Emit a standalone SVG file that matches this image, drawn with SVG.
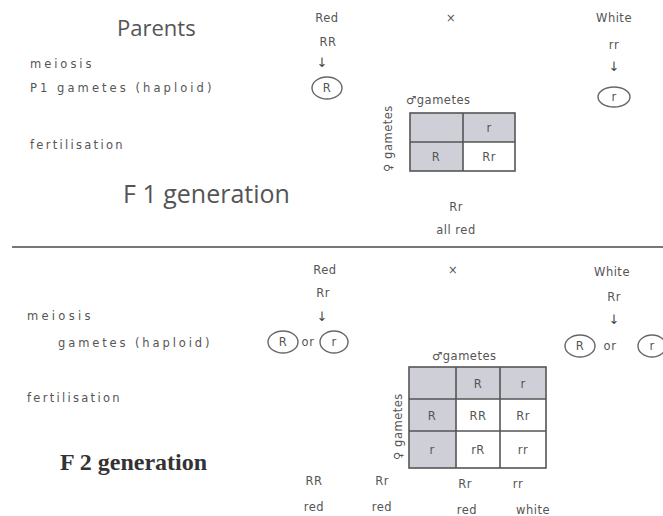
<svg xmlns="http://www.w3.org/2000/svg" width="663" height="516" viewBox="0 0 663 516">
<style>
.t{font-family:"DejaVu Sans",sans-serif;font-size:11.5px;fill:#555;letter-spacing:0.5px}
.c{text-anchor:middle}
.big{font-family:"Open Sans","Liberation Sans",sans-serif;font-size:22px;fill:#555}
.big2{font-family:"Open Sans","Liberation Sans",sans-serif;font-size:25px;fill:#555}
.ser{font-family:"Liberation Serif",serif;font-size:24px;font-weight:bold;fill:#333}
.g{fill:none;stroke:#666;stroke-width:1.4}
.sh{fill:#cfcfd8}
.wh{fill:#fff}
.grid{fill:none;stroke:#555;stroke-width:1.6}
.arr{font-family:"DejaVu Sans",sans-serif;font-size:13px;fill:#444;text-anchor:middle}
</style>
<rect width="663" height="516" fill="#fff"/>

<g id="labels-left">
<text class="big" x="117" y="36">Parents</text>
<text class="t" x="30" y="68" textLength="62">meiosis</text>
<text class="t" x="30" y="92" textLength="182">P1 gametes (haploid)</text>
<text class="t" x="30" y="149" textLength="93">fertilisation</text>
<text class="big2" x="123" y="203">F 1 generation</text>
<text class="t" x="27" y="320" textLength="64">meiosis</text>
<text class="t" x="58" y="347" textLength="152">gametes (haploid)</text>
<text class="t" x="27" y="402" textLength="93">fertilisation</text>
<text class="ser" x="60" y="470">F 2 generation</text>
</g>

<g id="parent1-top">
<text class="t c" x="327" y="22">Red</text>
<text class="t c" x="328" y="46">RR</text>
<text class="arr" x="322" y="67">↓</text>
<ellipse class="g" cx="327" cy="88" rx="15" ry="11"/>
<text class="t c" x="327" y="92">R</text>
</g>

<g id="cross-top"><text class="t c" x="451" y="22">×</text></g>

<g id="parent2-top">
<text class="t c" x="614" y="22">White</text>
<text class="t c" x="614" y="49">rr</text>
<text class="arr" x="614" y="71">↓</text>
<ellipse class="g" cx="614" cy="97" rx="16" ry="10"/>
<text class="t c" x="614" y="101">r</text>
</g>

<g id="punnett-f1">
<text class="t" x="406" y="104">♂gametes</text>
<text class="t" transform="translate(392,172) rotate(-90)">♀ gametes</text>
<rect class="sh" x="410" y="113" width="53" height="29"/>
<rect class="sh" x="463" y="113" width="52" height="29"/>
<rect class="sh" x="410" y="142" width="53" height="29"/>
<rect class="wh" x="463" y="142" width="52" height="29"/>
<rect class="grid" x="410" y="113" width="105" height="58"/>
<line class="grid" x1="463" y1="113" x2="463" y2="171"/>
<line class="grid" x1="410" y1="142" x2="515" y2="142"/>
<text class="t c" x="489" y="132">r</text>
<text class="t c" x="436" y="161">R</text>
<text class="t c" x="489" y="161">Rr</text>
</g>

<g id="result-f1">
<text class="t c" x="456" y="211">Rr</text>
<text class="t c" x="456" y="234">all red</text>
</g>

<g id="divider"><line x1="12" y1="247" x2="663" y2="247" stroke="#777" stroke-width="2"/></g>

<g id="parent1-bottom">
<text class="t c" x="325" y="274">Red</text>
<text class="t c" x="323" y="297">Rr</text>
<text class="arr" x="322" y="321">↓</text>
<ellipse class="g" cx="283" cy="342" rx="15" ry="11"/>
<text class="t c" x="283" y="346">R</text>
<text class="t c" x="308" y="346">or</text>
<ellipse class="g" cx="334" cy="342" rx="14" ry="11"/>
<text class="t c" x="334" y="346">r</text>
</g>

<g id="cross-bottom"><text class="t c" x="453" y="274">×</text></g>

<g id="parent2-bottom">
<text class="t c" x="612" y="276">White</text>
<text class="t c" x="614" y="301">Rr</text>
<text class="arr" x="614" y="324">↓</text>
<ellipse class="g" cx="580" cy="346" rx="15" ry="11"/>
<text class="t c" x="580" y="350">R</text>
<text class="t c" x="610" y="350">or</text>
<ellipse class="g" cx="652" cy="346" rx="14" ry="11"/>
<text class="t c" x="652" y="350">r</text>
</g>

<g id="punnett-f2">
<text class="t" x="432" y="360">♂gametes</text>
<text class="t" transform="translate(402,460) rotate(-90)">♀ gametes</text>
<rect class="sh" x="409" y="367" width="47" height="32"/>
<rect class="sh" x="456" y="367" width="44" height="32"/>
<rect class="sh" x="500" y="367" width="46" height="32"/>
<rect class="sh" x="409" y="399" width="47" height="32"/>
<rect class="wh" x="456" y="399" width="44" height="32"/>
<rect class="wh" x="500" y="399" width="46" height="32"/>
<rect class="sh" x="409" y="431" width="47" height="37"/>
<rect class="wh" x="456" y="431" width="44" height="37"/>
<rect class="wh" x="500" y="431" width="46" height="37"/>
<rect class="grid" x="409" y="367" width="137" height="101"/>
<line class="grid" x1="456" y1="367" x2="456" y2="468"/>
<line class="grid" x1="500" y1="367" x2="500" y2="468"/>
<line class="grid" x1="409" y1="399" x2="546" y2="399"/>
<line class="grid" x1="409" y1="431" x2="546" y2="431"/>
<text class="t c" x="478" y="388">R</text>
<text class="t c" x="523" y="388">r</text>
<text class="t c" x="432" y="420">R</text>
<text class="t c" x="478" y="420">RR</text>
<text class="t c" x="523" y="420">Rr</text>
<text class="t c" x="432" y="454">r</text>
<text class="t c" x="478" y="454">rR</text>
<text class="t c" x="523" y="454">rr</text>
</g>

<g id="result-f2">
<text class="t c" x="314" y="485">RR</text>
<text class="t c" x="314" y="511">red</text>
<text class="t c" x="382" y="485">Rr</text>
<text class="t c" x="382" y="511">red</text>
<text class="t c" x="465" y="488">Rr</text>
<text class="t c" x="467" y="514">red</text>
<text class="t c" x="518" y="488">rr</text>
<text class="t c" x="533" y="514">white</text>
</g>
</svg>
